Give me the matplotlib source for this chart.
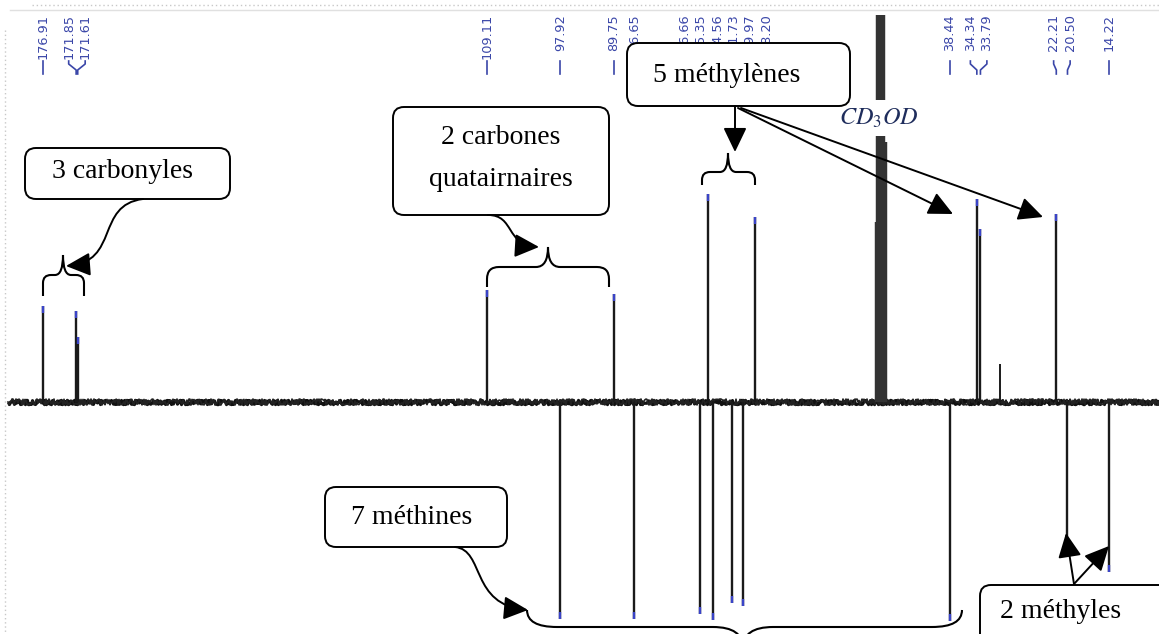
import numpy as np
import matplotlib
matplotlib.use('Agg')
import matplotlib.pyplot as plt
from matplotlib.patches import FancyBboxPatch, FancyArrowPatch, PathPatch
from matplotlib.path import Path

# ---------------- data ----------------
shifts = [176.91, 171.85, 171.61, 109.11, 97.92, 89.75, 86.65, 76.66, 75.35,
          74.56, 71.73, 69.97, 68.20, 38.44, 34.34, 33.79, 22.21, 20.50, 14.22]
intensities = [96, 91, 65, 112, -217, 108, -217, -212, 208,
               -218, -201, -204, 185, -219, 203, 173, 188, -152, -170]
solvent_shifts = [48.4, 48.6, 48.8, 49.0, 49.2, 49.4, 49.6]
solvent_int = [260, 540, 1080, 1260, 1080, 540, 180]
impurity_shifts = [30.8]
impurity_int = [38]
labels = ["%.2f" % s for s in shifts]

# ---------------- layout ----------------
W, H = 1159, 634
BASE = 402
TOP = 15
X0_PX, X0_PPM, PX_PER_PPM = 43, 176.91, 6.55
ppm_left = X0_PPM + X0_PX / PX_PER_PPM
ppm_right = X0_PPM - (W - X0_PX) / PX_PER_PPM

plt.rcParams['mathtext.fontset'] = 'stix'
fig = plt.figure(figsize=(W / 100, H / 100), dpi=100)
fig.patch.set_facecolor('white')

ax = fig.add_axes([0, 0, 1, (H - TOP) / H])
ax.set_xlim(ppm_left, ppm_right)
ax.set_ylim(-(H - BASE), BASE - TOP)
ax.axis('off')

# baseline with noisy look
x_start = ppm_left - 8 / PX_PER_PPM
bl, = ax.plot([x_start, ppm_right], [0, 0], color='#111111', lw=2.2, solid_capstyle='butt')
bl.set_sketch_params(scale=2.2, length=1.2, randomness=4)
bl2, = ax.plot([x_start, ppm_right], [0, 0], color='#222222', lw=1.2)
bl2.set_sketch_params(scale=3.0, length=0.8, randomness=6)

peak_col = '#1a1a1a'
tip_col = '#3a44c8'
ax.vlines(shifts, 0, intensities, color=peak_col, lw=1.7)
ax.vlines(shifts, [v - np.sign(v) * 7 for v in intensities], intensities, color=tip_col, lw=1.7)
ax.vlines(solvent_shifts, 0, solvent_int, color='#333333', lw=3.2)
ax.vlines(impurity_shifts, 0, impurity_int, color=peak_col, lw=1.4)

# ---------------- overlay in pixel coordinates ----------------
ax2 = fig.add_axes([0, 0, 1, 1], zorder=5)
ax2.set_xlim(0, W)
ax2.set_ylim(H, 0)
ax2.axis('off')
ax2.patch.set_alpha(0)

# dotted frame
ax2.plot([32, W], [5, 5], color='#c8c8c8', ls=(0, (1, 2)), lw=1)
ax2.plot([10, W], [10, 10], color='#e0e0e0', lw=1)
ax2.plot([5, 5], [30, H], color='#c8c8c8', ls=(0, (1, 2)), lw=1)

# peak labels with spreading
fig.canvas.draw()
peak_px = [ax.transData.transform((s, 0))[0] for s in shifts]


def spread(xs, gap):
    order = np.argsort(xs)
    clusters = [[i] for i in order]

    def pos(cl):
        c = np.mean([xs[i] for i in cl])
        n = len(cl)
        return [c + (k - (n - 1) / 2) * gap for k in range(n)]
    changed = True
    while changed:
        changed = False
        for j in range(len(clusters) - 1):
            if pos(clusters[j + 1])[0] - pos(clusters[j])[-1] < gap:
                clusters[j] = clusters[j] + clusters[j + 1]
                del clusters[j + 1]
                changed = True
                break
    out = [0] * len(xs)
    for cl in clusters:
        for i, p in zip(cl, pos(cl)):
            out[i] = p
    return out


label_px = spread(peak_px, 16.5)
lab_col = '#3a46a8'
for lx, px, s in zip(label_px, peak_px, labels):
    ax2.text(lx, 14, s, rotation=90, ha='center', va='top', fontsize=9.3,
             color=lab_col, family='DejaVu Sans')
    ax2.plot([lx, lx, px, px], [61, 64, 70, 74], color=lab_col, lw=1.2)

serif = 'Liberation Serif'
FS = 20


def box(x, y, w, h):
    p = FancyBboxPatch((x, y), w, h, boxstyle='round,pad=0,rounding_size=11',
                       fc='white', ec='black', lw=1.4, zorder=6)
    ax2.add_patch(p)


def brace(x1, x2, xc, y_end, y_bar, y_cusp, r=10, re=10):
    d = np.sign(y_end - y_bar)
    r1 = min(re, abs(y_end - y_bar))
    verts = [(x1, y_end), (x1, y_bar + d * r1), (x1, y_bar), (x1 + re, y_bar),
             (xc - r, y_bar), (xc, y_bar), (xc, y_cusp),
             (xc, y_bar), (xc + r, y_bar),
             (x2 - re, y_bar), (x2, y_bar), (x2, y_bar + d * r1), (x2, y_end)]
    codes = [Path.MOVETO, Path.LINETO, Path.CURVE3, Path.CURVE3,
             Path.LINETO, Path.CURVE3, Path.CURVE3,
             Path.CURVE3, Path.CURVE3,
             Path.LINETO, Path.CURVE3, Path.CURVE3, Path.LINETO]
    ax2.add_patch(PathPatch(Path(verts, codes), fc='none', ec='black', lw=1.5, zorder=6))


AS = '-|>,head_length=0.75,head_width=0.36'


def arrow(p0, p1):
    ax2.add_patch(FancyArrowPatch(p0, p1, arrowstyle=AS, mutation_scale=20,
                                  color='black', lw=1.4, shrinkA=0, shrinkB=0, zorder=6))


def curved_arrow(pts):
    path = Path(pts, [Path.MOVETO, Path.CURVE4, Path.CURVE4, Path.CURVE4])
    ax2.add_patch(FancyArrowPatch(path=path, arrowstyle=AS, mutation_scale=20,
                                  color='black', lw=1.4, zorder=6))


# CD3OD (below boxes and arrows)
ax2.text(879, 118, r'$CD_{3}OD$', ha='center', va='center', fontsize=17.5, color='#1f2d5c',
         zorder=5.5, bbox=dict(fc='white', ec='none', pad=4))

# 3 carbonyles
box(25, 148, 205, 51)
ax2.text(122, 172, '3 carbonyles', ha='center', va='center', fontsize=FS, family=serif, zorder=7)
brace(43, 84, 63, 296, 275, 255, r=8, re=8)
curved_arrow([(143, 199), (95, 205), (120, 262), (66, 266)])

# 2 carbones quatairnaires
box(393, 107, 216, 108)
ax2.text(501, 137, '2 carbones', ha='center', va='center', fontsize=FS, family=serif, zorder=7)
ax2.text(501, 180, 'quatairnaires', ha='center', va='center', fontsize=FS, family=serif, zorder=7)
brace(487, 609, 548, 287, 267, 247, r=12, re=12)
curved_arrow([(488, 215), (515, 215), (505, 245), (539, 247)])

# 5 méthylènes
box(627, 43, 223, 63)
ax2.text(727, 76, '5 méthylènes', ha='center', va='center', fontsize=FS, family=serif, zorder=7)
arrow((735, 106), (735, 152))
brace(702, 755, 728, 185, 172, 153, r=8, re=8)
arrow((738, 108), (953, 214))
arrow((741, 108), (1043, 217))

# 7 méthines
box(325, 487, 182, 60)
ax2.text(412, 518, '7 méthines', ha='center', va='center', fontsize=FS, family=serif, zorder=7)
curved_arrow([(455, 547), (485, 550), (470, 605), (528, 610)])
brace(527, 962, 743, 610, 627, 648, r=30, re=30)

# 2 méthyles
box(980, 585, 260, 100)
ax2.text(1000, 612, '2 méthyles', ha='left', va='center', fontsize=FS, family=serif, zorder=7)
arrow((1074, 584), (1066, 533))
arrow((1074, 584), (1109, 546))

fig.savefig('out.png', dpi=100, facecolor='white')
